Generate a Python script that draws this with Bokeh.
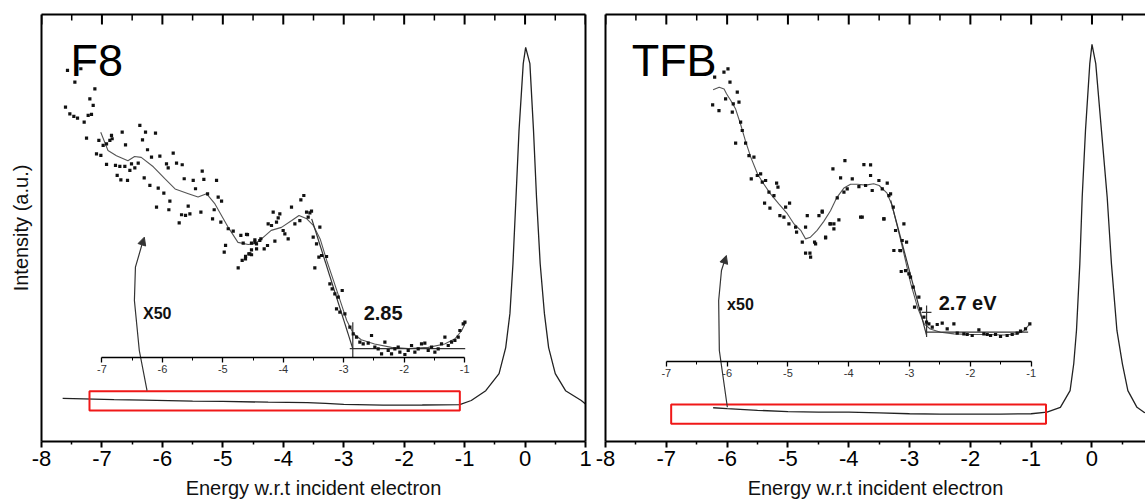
from bokeh.plotting import figure
from bokeh.models import Range1d, LinearAxis, FixedTicker, Arrow, NormalHead
from bokeh.layouts import row
from bokeh.embed import file_html
from bokeh.resources import INLINE
from bokeh.core.properties import value

FONT = "Liberation Sans"

# ---------------- shared ticks ----------------
main_ticks = [-8, -7, -6, -5, -4, -3, -2, -1, 0, 1]
main_minor = [-7.5, -6.5, -5.5, -4.5, -3.5, -2.5, -1.5, -0.5, 0.5]
inset_ticks = [-7, -6, -5, -4, -3, -2, -1]
inset_minor = [-6.5, -5.5, -4.5, -3.5, -2.5, -1.5]
x_title = "Energy w.r.t incident electron"
y_title = "Intensity (a.u.)"

# ---------------- F8 panel ----------------
f8_main_x = [-7.65, -7.3, -6.8, -6.3, -5.5, -5.0, -4.25, -3.6, -3.3, -3.0, -2.35, -1.7, -1.08, -0.89,
             -0.65, -0.43, -0.32, -0.25, -0.20, -0.15, -0.10, -0.03, 0.01, 0.08, 0.14, 0.19, 0.25,
             0.32, 0.39, 0.50, 0.67, 0.93, 1.0]
f8_main_y = [10.1, 10.0, 9.8, 9.7, 9.45, 9.4, 9.2, 9.1, 8.95, 8.7, 8.5, 8.55, 8.65, 9.6,
             11.9, 15.9, 22.0, 30.0, 41.7, 57.1, 72.8, 88.5, 92.3, 88.5, 72.8, 57.1, 41.7,
             30.0, 22.0, 15.9, 11.9, 9.6, 8.8]

f8_smooth_x = [-7.02, -6.90, -6.76, -6.57, -6.46, -6.35, -6.15, -5.96, -5.79, -5.57, -5.41, -5.27,
               -5.13, -4.91, -4.75, -4.58, -4.47, -4.36, -4.20, -4.03, -3.86, -3.74, -3.61, -3.50,
               -3.39, -3.28, -3.17, -3.06, -2.95, -2.84, -2.71, -2.49, -2.21, -1.93, -1.60, -1.33,
               -1.16, -1.05, -0.98]
f8_smooth_y = [52.7, 48.4, 47.2, 46.0, 47.0, 46.8, 44.6, 41.8, 39.4, 38.3, 37.5, 38.3,
               35.9, 30.4, 26.9, 26.4, 26.6, 27.7, 29.7, 30.4, 32.0, 33.2, 32.4, 30.8,
               27.7, 22.6, 18.0, 13.3, 8.6, 5.5, 4.1, 3.1, 2.3, 2.0, 2.3, 3.1,
               4.3, 6.2, 8.2]

f8_dots_x = [-7.570, -7.448, -7.349, -7.117, -7.200, -7.145, -7.603, -7.531, -7.465, -7.404, -7.294,
             -7.228, -7.173, -7.255, -7.051, -6.980, -7.018, -7.090, -6.924, -6.869, -6.842, -6.831,
             -6.665, -6.610, -6.373, -6.329, -6.279, -6.246, -6.114, -6.924, -6.776, -6.704, -6.621,
             -6.538, -6.511, -6.456, -6.748, -6.687, -6.577, -6.400, -6.301, -6.207, -6.180, -6.042,
             -5.932, -5.904, -5.821, -5.766, -5.672, -5.639, -5.490, -5.452, -5.314, -5.341, -5.104,
             -5.077, -5.021, -6.069, -5.976, -6.097, -5.876, -5.893, -5.722, -5.683, -5.617, -5.573,
             -5.545, -5.363, -5.253, -5.143, -5.170, -5.033, -4.911, -4.828, -4.702, -4.608, -4.470,
             -4.371, -4.955, -4.977, -4.746, -4.680, -4.624, -4.553, -4.525, -4.442,
             -4.663, -4.592, -4.526, -4.470, -4.443, -4.388, -4.625, -4.570, -4.526, -4.316, -4.261,
             -4.139, -4.250, -4.167, -4.084, -4.057, -4.112, -4.195, -4.002, -3.974, -3.919, -3.864,
             -3.709, -3.660, -3.808, -3.726, -3.615, -3.560, -3.533, -3.588, -3.395, -3.505, -3.450,
             -3.478, -3.411, -3.367, -3.284, -3.229, -3.191, -3.147, -3.091, -3.025, -3.119, -3.064,
             -2.981, -2.898, -2.843, -2.788, -2.733, -2.678, -2.595, -2.540, -2.485, -2.430, -2.374,
             -2.319, -2.264, -2.209, -2.154, -2.099, -2.071, -1.988, -1.933, -1.878, -1.823, -1.768,
             -1.713, -1.658, -1.602, -1.547, -1.492, -1.437, -1.382, -1.326, -1.271, -1.216, -1.161,
             -1.106, -1.078, -1.023, -0.995]
f8_dots_y = [67.16, 64.43, 67.55, 62.86, 60.52, 58.96, 58.57, 57.01, 56.39, 56.0, 55.06,
             56.62, 56.85, 51.31, 50.76, 49.59, 47.25, 47.64, 49.98, 50.76, 51.94, 51.16,
             52.72, 49.75, 54.28, 50.92, 52.72, 48.58, 52.48, 45.14, 44.91, 44.68, 44.68,
             43.74, 45.30, 44.36, 42.57, 41.55, 41.40, 45.46, 42.02, 40.23, 46.86, 47.10,
             45.30, 44.36, 47.80, 45.46, 45.07, 41.79, 41.40, 39.45, 41.63, 43.58, 41.40,
             37.49, 36.56, 39.60, 38.43, 35.15, 36.56, 34.53, 31.48, 33.36, 33.20, 35.39,
             33.59, 33.98, 38.27, 34.53, 32.42, 31.64, 30.08, 29.53, 28.52, 28.75, 26.95,
             27.74, 26.17, 24.61, 20.94, 22.66, 23.60, 24.22, 23.99, 25.39,
             26.70, 28.73, 26.70, 27.48, 26.55, 27.33, 23.03, 24.21, 25.14, 25.38, 26.16,
             27.17, 31.23, 33.96, 32.64, 33.57, 31.62, 30.84, 29.67, 28.89, 27.72, 35.14,
             36.85, 37.87, 31.23, 32.01, 33.96, 33.81, 34.20, 32.79, 30.45, 28.11, 26.55,
             20.93, 23.43, 23.82, 23.58, 17.18, 16.01, 14.84, 14.06, 15.62, 11.33, 10.55,
             10.16, 7.03, 5.47, 4.69, 3.52, 3.13, 3.29, 5.08, 2.35, 1.96, 0.79,
             3.52, 1.57, 0.79, 1.96, 2.35, 1.18, 0.63, 1.57, 2.74, 1.18, 1.96,
             3.13, 3.29, 1.57, 2.35, 1.18, 1.96, 3.13, 4.69, 2.74, 3.52, 3.91,
             4.69, 6.25, 7.81, 8.20]

f8_fit_xs = [[-3.53, -2.85], [-2.90, -0.99], [-2.85, -2.85]]
f8_fit_ys = [[32.4, 2.0], [2.0, 2.0], [0.0, 8.2]]
f8_arrow_x = [-6.254, -6.382, -6.463, -6.446, -6.330]
f8_arrow_y = [11.94, 21.31, 33.02, 40.82, 46.5]
f8_arrow_tip = (-6.299, 47.85)
f8_box = (-7.206, -1.079, 7.26, 11.78)
f8_inset_zero = 19.74
f8_name = ("F8", -7.52, 89.2)
f8_mag = ("X50", -6.32, 10.2)
f8_gap = ("2.85", -2.67, 10.4)

# ---------------- TFB panel ----------------
tfb_main_x = [-6.23, -6.0, -5.5, -5.0, -4.5, -4.0, -3.5, -3.0, -2.5, -2.0, -1.5, -1.0, -0.74, -0.52,
              -0.36, -0.30, -0.255, -0.20, -0.161, -0.107, -0.036, 0.0, 0.062, 0.156, 0.25, 0.32,
              0.41, 0.50, 0.59, 0.74, 0.85, 0.88]
tfb_main_y = [7.9, 7.7, 7.3, 7.0, 6.9, 6.9, 6.7, 6.5, 6.4, 6.4, 6.4, 6.5, 6.9, 8.0,
              11.9, 18.2, 26.0, 41.6, 57.2, 72.8, 88.5, 93.0, 88.5, 72.8, 57.2, 41.6,
              26.0, 18.2, 11.9, 8.0, 6.9, 6.7]

tfb_smooth_x = [-6.23, -6.13, -6.05, -6.01, -5.94, -5.86, -5.78, -5.70, -5.61, -5.50, -5.40, -5.29,
                -5.15, -5.01, -4.90, -4.79, -4.71, -4.63, -4.52, -4.41, -4.30, -4.20, -4.08, -3.97,
                -3.86, -3.72, -3.59, -3.50, -3.37, -3.29, -3.20, -3.09, -2.98, -2.87, -2.76, -2.66,
                -2.49, -2.27, -2.00, -1.72, -1.45, -1.23, -1.12, -1.02]
tfb_smooth_y = [63.5, 64.1, 63.7, 62.6, 61.0, 59.0, 55.5, 51.6, 47.7, 43.8, 41.5, 39.2,
                36.8, 34.5, 32.1, 30.6, 28.6, 29.0, 30.6, 32.7, 35.2, 38.2, 40.5, 41.4,
                41.4, 41.2, 41.5, 41.1, 39.3, 36.5, 31.5, 25.0, 18.1, 12.6, 8.7, 7.5,
                6.75, 6.36, 6.2, 6.2, 6.1, 6.36, 7.1, 8.7]

tfb_dots_x = [-6.205, -6.052, -5.986, -5.953, -5.833, -6.238, -6.134, -6.025, -5.915, -5.899, -5.805,
              -5.778, -5.751, -5.860, -5.696, -5.641, -5.559, -5.603, -5.504, -5.449, -5.422, -5.367,
              -5.312, -5.186, -5.164, -5.384, -5.296, -5.230, -5.132, -5.038, -4.973, -5.066, -4.984,
              -4.874, -4.858, -4.764, -4.710, -4.682, -4.562, -4.545, -4.710, -4.638, -4.627, -4.490,
              -4.436, -4.381, -4.310, -4.244, -4.189, -4.134, -4.063, -4.260, -4.079, -4.025, -3.942,
              -3.833, -3.751, -3.641, -3.641, -3.805, -3.723, -3.614, -3.504, -3.449, -3.367, -3.312,
              -3.422, -3.340, -3.268, -3.230, -3.148, -3.137,
              -4.436, -4.381, -4.299, -4.244, -4.162, -3.778, -3.422, -3.258, -3.159, -3.121, -3.093,
              -3.049, -3.066, -3.011, -2.984, -2.940, -2.918, -2.847, -2.819, -2.764, -2.721, -2.682,
              -2.627, -2.545, -2.463, -2.381, -2.271, -2.216, -2.107, -2.052, -1.970, -1.860, -1.778,
              -1.723, -1.668, -1.586, -1.504, -1.395, -1.312, -1.230, -1.175, -1.093, -1.022]
tfb_dots_y = [66.47, 67.64, 68.42, 65.30, 62.95, 59.99, 58.66, 61.39, 58.27, 60.22, 60.61,
              55.93, 53.98, 51.01, 51.01, 48.12, 47.73, 42.66, 43.44, 43.83, 41.88, 42.27,
              39.53, 41.64, 40.71, 36.96, 35.79, 38.75, 34.07, 36.02, 36.96, 33.68, 32.12,
              31.34, 30.17, 27.83, 31.34, 34.07, 27.83, 27.44, 25.25, 25.25, 24.31, 34.07,
              35.09, 28.84, 32.12, 32.12, 38.21, 42.89, 46.95, 45.00, 39.54, 40.32, 42.66,
              40.86, 46.01, 45.94, 43.44, 33.68, 41.10, 39.93, 42.27, 40.32, 41.64, 39.14,
              33.29, 38.75, 36.02, 30.56, 25.87, 20.96,
              34.85, 29.0, 32.12, 30.95, 33.06, 33.68, 33.29, 25.88, 25.88, 28.22, 32.12,
              27.83, 21.19, 20.41, 19.63, 17.29, 12.60, 14.95, 12.22, 10.26, 9.09, 8.70,
              7.92, 8.55, 8.86, 7.53, 8.70, 6.52, 6.36, 6.21, 5.97, 7.30, 6.36,
              6.21, 5.97, 6.21, 5.74, 5.97, 6.21, 6.52, 6.99, 7.53, 8.70]

tfb_fit_xs = [[-3.31, -2.72], [-2.72, -1.05], [-2.72, -2.72], [-2.80, -2.64]]
tfb_fit_ys = [[37.6, 6.0], [6.75, 6.75], [5.6, 13.0], [11.4, 11.4]]
tfb_arrow_x = [-5.996, -6.128, -6.139, -6.093, -6.040]
tfb_arrow_y = [8.03, 21.31, 33.02, 40.05, 42.4]
tfb_arrow_tip = (-6.013, 43.56)
tfb_box = (-6.92, -0.756, 4.15, 8.67)
tfb_inset_zero = 18.85
tfb_name = ("TFB", -7.57, 89.2)
tfb_mag = ("x50", -6.00, 13.2)
tfb_gap = ("2.7 eV", -2.52, 13.5)

Y_TOP = 100.0
PX_PER_Y = 427.0 / Y_TOP   # frame height in px per y unit


def style_axis(ax, tick_in, tick_out, minor_in, minor_out):
    ax.axis_line_width = 2
    ax.axis_line_color = "black"
    ax.major_tick_in = tick_in
    ax.major_tick_out = tick_out
    ax.minor_tick_in = minor_in
    ax.minor_tick_out = minor_out
    ax.major_tick_line_width = 2
    ax.minor_tick_line_width = 1.5
    ax.major_tick_line_color = "black"
    ax.minor_tick_line_color = "black"


def make_panel(width, xmax, bl, br, d):
    p = figure(width=width, height=501, x_range=Range1d(-8, xmax), y_range=Range1d(0, Y_TOP),
               output_backend="svg", toolbar_location=None,
               min_border_left=bl, min_border_right=br, min_border_top=14, min_border_bottom=60)
    p.outline_line_color = None
    p.xgrid.visible = False
    p.ygrid.visible = False
    p.extra_y_ranges = {"inset": Range1d(-d["zero"], Y_TOP - d["zero"])}

    # top ticks pointing down into the plot, as short vertical polylines
    maj_len = 10 / PX_PER_Y
    min_len = 6 / PX_PER_Y
    top_xs = [[float(t), float(t)] for t in main_ticks if t <= xmax]
    top_ys = [[Y_TOP - 0.05, Y_TOP - maj_len] for _ in top_xs]
    p.multi_line(xs=top_xs, ys=top_ys, line_color="black", line_width=2)
    mtop_xs = [[float(t), float(t)] for t in main_minor if t <= xmax]
    mtop_ys = [[Y_TOP - 0.05, Y_TOP - min_len] for _ in mtop_xs]
    p.multi_line(xs=mtop_xs, ys=mtop_ys, line_color="black", line_width=1.5)

    # bottom axis
    xa = p.xaxis[0]
    xa.ticker = FixedTicker(ticks=main_ticks, minor_ticks=main_minor)
    style_axis(xa, 0, 6, 0, 3)
    xa.major_label_overrides = {t: str(t) for t in main_ticks}
    xa.major_label_text_font = FONT
    xa.major_label_text_font_size = "22px"
    xa.major_label_text_color = "black"
    xa.major_label_standoff = 3
    xa.axis_label = x_title
    xa.axis_label_text_font = FONT
    xa.axis_label_text_font_size = "20px"
    xa.axis_label_text_font_style = "normal"
    xa.axis_label_text_color = "#111111"
    xa.axis_label_standoff = 8

    # left axis (frame, no ticks)
    ya = p.yaxis[0]
    ya.ticker = FixedTicker(ticks=[])
    style_axis(ya, 0, 0, 0, 0)
    if d["ylabel"]:
        ya.axis_label = y_title
        ya.axis_label_text_font = FONT
        ya.axis_label_text_font_size = "20px"
        ya.axis_label_text_font_style = "normal"
        ya.axis_label_text_color = "#111111"
        ya.axis_label_standoff = 10

    # top frame line
    top = LinearAxis(ticker=FixedTicker(ticks=[]), major_label_standoff=0)
    style_axis(top, 0, 0, 0, 0)
    p.add_layout(top, "above")

    if d["right"]:
        ra = LinearAxis(ticker=FixedTicker(ticks=[]), major_label_standoff=0)
        style_axis(ra, 0, 0, 0, 0)
        p.add_layout(ra, "right")

    # inset axis placed inside the plot at inset zero
    ia = LinearAxis(y_range_name="inset", fixed_location=0, bounds=(-7, -1),
                    ticker=FixedTicker(ticks=inset_ticks, minor_ticks=inset_minor))
    style_axis(ia, 0, 5, 0, 3)
    ia.major_label_overrides = {t: str(t) for t in inset_ticks}
    ia.axis_line_width = 1.6
    ia.major_tick_line_width = 1.3
    ia.minor_tick_line_width = 1
    ia.major_label_text_font = FONT
    ia.major_label_text_font_size = "11px"
    ia.major_label_text_color = "#333333"
    ia.major_label_standoff = 3
    p.add_layout(ia, "below")

    # main spectrum
    p.line(d["main_x"], d["main_y"], line_color="#222222", line_width=1.3)
    # red box
    l, r, b, t = d["box"]
    p.quad(left=[l], right=[r], bottom=[b], top=[t], fill_color=None,
           line_color="#f01818", line_width=2)
    # arrow
    p.line(d["arrow_x"], d["arrow_y"], line_color="#333333", line_width=1.2)
    tip = d["arrow_tip"]
    p.add_layout(Arrow(end=NormalHead(size=8, fill_color="#333333", line_color="#333333"),
                       x_start=d["arrow_x"][-1], y_start=d["arrow_y"][-1],
                       x_end=tip[0], y_end=tip[1], line_color="#333333", line_width=1.2))
    # inset
    p.line(d["smooth_x"], d["smooth_y"], y_range_name="inset", line_color="#555555", line_width=1.1)
    p.multi_line(d["fit_xs"], d["fit_ys"], y_range_name="inset", line_color="#333333", line_width=1.2)
    p.scatter(d["dots_x"], d["dots_y"], y_range_name="inset", marker="square", size=3.2,
              fill_color="#111111", line_color=None)

    # texts
    name, nx, ny = d["name"]
    p.text(x=[nx], y=[ny], text=[name], text_font=value(FONT), text_font_size="45px",
           text_baseline="middle", text_color="black")
    mag, mx, my = d["mag"]
    p.text(x=[mx], y=[my], text=[mag], y_range_name="inset", text_font=value(FONT),
           text_font_size="16px", text_font_style="bold", text_baseline="middle",
           text_color="#111111")
    gap, gx, gy = d["gap"]
    p.text(x=[gx], y=[gy], text=[gap], y_range_name="inset", text_font=value(FONT),
           text_font_size="20px", text_font_style="bold", text_baseline="middle",
           text_color="#111111")
    return p


p1 = make_panel(595, 1, 41, 10, dict(
    zero=f8_inset_zero, ylabel=True, right=True,
    main_x=f8_main_x, main_y=f8_main_y, smooth_x=f8_smooth_x, smooth_y=f8_smooth_y,
    dots_x=f8_dots_x, dots_y=f8_dots_y, fit_xs=f8_fit_xs, fit_ys=f8_fit_ys,
    arrow_x=f8_arrow_x, arrow_y=f8_arrow_y, arrow_tip=f8_arrow_tip, box=f8_box,
    name=f8_name, mag=f8_mag, gap=f8_gap))

p2 = make_panel(550, 0.88, 10, 0, dict(
    zero=tfb_inset_zero, ylabel=False, right=False,
    main_x=tfb_main_x, main_y=tfb_main_y, smooth_x=tfb_smooth_x, smooth_y=tfb_smooth_y,
    dots_x=tfb_dots_x, dots_y=tfb_dots_y, fit_xs=tfb_fit_xs, fit_ys=tfb_fit_ys,
    arrow_x=tfb_arrow_x, arrow_y=tfb_arrow_y, arrow_tip=tfb_arrow_tip, box=tfb_box,
    name=tfb_name, mag=tfb_mag, gap=tfb_gap))

layout = row(p1, p2)
open("out.html", "w").write(file_html(layout, INLINE))
